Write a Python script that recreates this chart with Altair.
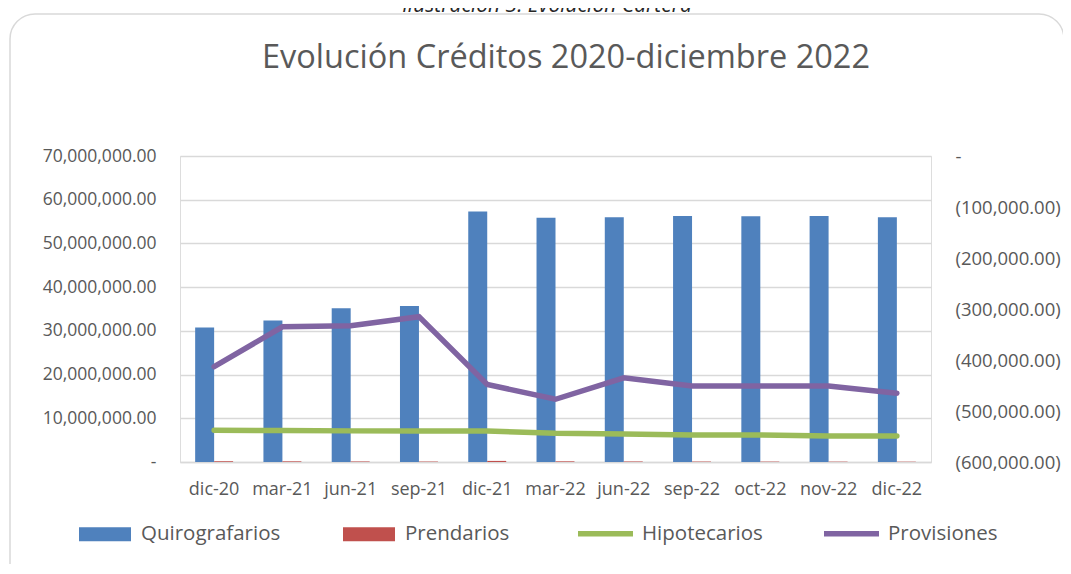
import altair as alt
import pandas as pd

fechas = ['dic-20', 'mar-21', 'jun-21', 'sep-21', 'dic-21', 'mar-22',
          'jun-22', 'sep-22', 'oct-22', 'nov-22', 'dic-22']
quirografarios = [30750000, 32350000, 35200000, 35700000, 57300000, 55900000,
                  56000000, 56300000, 56200000, 56300000, 56000000]
prendarios = [200000, 150000, 120000, 100000, 250000, 150000,
              120000, 100000, 90000, 80000, 70000]
hipotecarios = [7240000, 7180000, 7120000, 7100000, 7080000, 6550000,
                6400000, 6160000, 6160000, 5950000, 5940000]
provisiones = [-413000, -335000, -333000, -315000, -448000, -477000,
               -435000, -451000, -451000, -451000, -465000]

left_ticks = [0, 10000000, 20000000, 30000000, 40000000, 50000000, 60000000, 70000000]
right_ticks = [-600000, -500000, -400000, -300000, -200000, -100000, 0]

titulo = 'Evolución Créditos 2020-diciembre 2022'
leyenda_sup = 'Ilustración 3. Evolución Cartera'

FONT = 'Open Sans'
GRAY = '#595959'

bars_df = pd.DataFrame({
    'fecha': fechas * 2,
    'serie': ['Quirografarios'] * len(fechas) + ['Prendarios'] * len(fechas),
    'valor': quirografarios + prendarios,
})
hipo_df = pd.DataFrame({'fecha': fechas, 'serie': 'Hipotecarios', 'valor': hipotecarios})
prov_df = pd.DataFrame({'fecha': fechas, 'serie': 'Provisiones', 'valor': provisiones})

xscale = alt.Scale(paddingInner=0.444, paddingOuter=0.222)
xenc = alt.X('fecha:N', sort=fechas, scale=xscale, title=None,
             axis=alt.Axis(labelAngle=0, labelFont=FONT, labelFontSize=18,
                           labelColor=GRAY, ticks=False, domain=True,
                           domainColor='#d9d9d9', domainWidth=1.5,
                           labelPadding=18, grid=False))

stroke_scale = alt.Scale(domain=['Hipotecarios', 'Provisiones'],
                         range=['#9BBB59', '#8064A2'])
stroke_legend = alt.Legend(title=None, orient='none', legendX=395, legendY=347,
                           direction='horizontal', symbolType='M-1,0H1',
                           symbolSize=3025, symbolStrokeWidth=5.5,
                           labelFont=FONT, labelFontSize=20.5, labelColor=GRAY,
                           labelOffset=6, columnPadding=50)

left_axis = alt.Axis(values=left_ticks, labelFont=FONT, labelFontSize=17.5,
                     labelColor=GRAY, ticks=False, domain=False, grid=True,
                     gridColor='#d9d9d9', gridWidth=1.5, labelPadding=24,
                     labelExpr="datum.value == 0 ? '-\u00a0\u00a0' : format(datum.value, ',.2f')")

border = alt.Chart(pd.DataFrame({'k': [1]})).mark_rect(
    fillOpacity=0, stroke='#d9d9d9', strokeWidth=1.5, cornerRadius=25
).encode(x=alt.value(-170), x2=alt.value(884), y=alt.value(-142), y2=alt.value(440))

caption = alt.Chart(pd.DataFrame({'t': [leyenda_sup]})).mark_text(
    font=FONT, fontSize=21, fontStyle='italic', color='#262626', baseline='alphabetic',
    align='center'
).encode(text='t:N', x=alt.value(367), y=alt.value(-144))

title = alt.Chart(pd.DataFrame({'t': [titulo]})).mark_text(
    font=FONT, fontSize=32.5, color=GRAY, baseline='alphabetic', align='center'
).encode(text='t:N', x=alt.value(386), y=alt.value(-88))

bars = alt.Chart(bars_df).mark_bar().encode(
    x=xenc,
    xOffset=alt.XOffset('serie:N', sort=['Quirografarios', 'Prendarios'],
                        scale=alt.Scale(paddingInner=0, paddingOuter=0)),
    y=alt.Y('valor:Q', scale=alt.Scale(domain=[0, 70000000], nice=False),
            axis=left_axis, title=None),
    color=alt.Color('serie:N',
                    scale=alt.Scale(domain=['Quirografarios', 'Prendarios'],
                                    range=['#4F81BD', '#C0504D']),
                    legend=alt.Legend(title=None, orient='none', legendX=-101, legendY=352,
                                      direction='horizontal',
                                      symbolType='M-1,-0.27H1V0.27H-1Z',
                                      symbolSize=2704, symbolStrokeWidth=0,
                                      labelFont=FONT, labelFontSize=20.5, labelColor=GRAY,
                                      labelOffset=10, columnPadding=62)),
)

hipo = alt.Chart(hipo_df).mark_line(strokeWidth=5.5, strokeCap='round').encode(
    x=alt.X('fecha:N', sort=fechas, scale=xscale, title=None),
    y=alt.Y('valor:Q'),
    stroke=alt.Stroke('serie:N', scale=stroke_scale, legend=stroke_legend),
)

prov = alt.Chart(prov_df).mark_line(strokeWidth=5.5, strokeCap='round').encode(
    x=alt.X('fecha:N', sort=fechas, scale=xscale, title=None),
    y=alt.Y('valor:Q', scale=alt.Scale(domain=[-600000, 0], nice=False), title=None,
            axis=alt.Axis(orient='right', values=right_ticks, labelFont=FONT,
                          labelFontSize=18.5, labelColor=GRAY, ticks=False,
                          domain=False, grid=False, labelPadding=24, labelAlign='left',
                          labelExpr="datum.value == 0 ? '-' : '(' + format(abs(datum.value), ',.2f') + ')'")),
    stroke=alt.Stroke('serie:N', scale=stroke_scale, legend=stroke_legend),
)

left = alt.layer(border, caption, title, bars, hipo)
chart = alt.layer(left, prov).resolve_scale(y='independent').properties(
    width=751, height=306,
    autosize=alt.AutoSizeParams(type='none'),
    padding={'left': 172, 'top': 148, 'right': 132, 'bottom': 102},
).configure_view(strokeWidth=0, stroke='transparent').configure(background='white')

chart.save('out.html', embed_options={'renderer': 'svg', 'actions': False})
